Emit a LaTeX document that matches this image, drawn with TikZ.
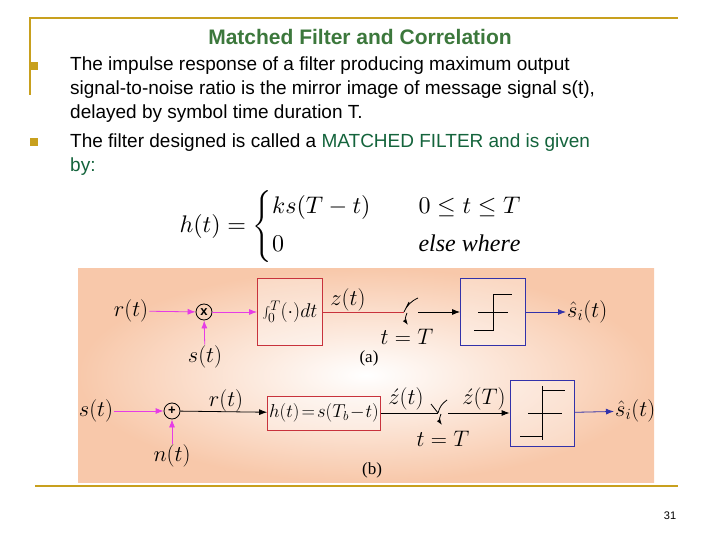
\documentclass[tikz,border=0pt]{standalone}
\usepackage{graphicx}
\usepackage{fontspec}
\setmainfont{Liberation Serif}
\newfontfamily\sans{Liberation Sans}
\usetikzlibrary{arrows.meta}
\newcommand{\MM}[1]{\scalebox{1.3}{$#1$}}
\definecolor{gold}{RGB}{200,160,30}
\definecolor{tgreen}{RGB}{60,120,60}
\definecolor{mgreen}{RGB}{20,100,60}
\definecolor{peach}{RGB}{248,200,170}
\definecolor{mag}{RGB}{230,60,230}
\definecolor{rbox}{RGB}{200,50,60}
\definecolor{bbox}{RGB}{50,50,170}
\tikzset{
 body/.style={font=\sans\fontsize{19}{24}\selectfont,anchor=north west,align=left,inner sep=0pt},
 lab/.style={font=\fontsize{17}{17}\selectfont,inner sep=1pt},
 marr/.style={draw=mag,thick,-{Latex[length=8pt,width=6pt]}},
 karr/.style={draw=black,thick,-{Latex[length=8pt,width=6pt]}},
 barr/.style={draw=bbox,thick,-{Latex[length=8pt,width=6pt]}},
 redbox/.style={draw=rbox,thick,fill=white,fill opacity=0.3,text opacity=1},
 bluebox/.style={draw=bbox,thick,fill=white,fill opacity=0.3,text opacity=1},
 circ/.style={circle,draw,thick,inner sep=0pt,minimum size=16pt,font=\sans\fontsize{13}{13}\selectfont\bfseries}
}
\begin{document}
\begin{tikzpicture}[x=1pt,y=-1pt]
\useasboundingbox (0,0) rectangle (720,540);
\fill[white] (0,0) rectangle (720,540);
\draw[gold,line width=2.5pt] (30,95) -- (30,18) -- (678,18);
\draw[gold,line width=2.5pt] (35,486) -- (678,486);
\node[font=\sans\fontsize{21}{21}\selectfont\bfseries,text=tgreen] (title) at (360,37) {Matched Filter and Correlation};
\fill[gold] (30,62) rectangle (38,70);
\fill[gold] (30,138) rectangle (38,146);
\node[body] (b1) at (70,57) {The impulse response of a filter producing maximum output\\signal-to-noise ratio is the mirror image of message signal s(t),\\delayed by symbol time duration T.};
\node[body] (b2) at (70,134) {The filter designed is called a \textcolor{mgreen}{MATCHED FILTER and is given}\\\textcolor{mgreen}{by:}};
% equation
\node[anchor=west] (eq) at (176,227) {\scalebox{2.4}{$h(t)=\left\{\begin{array}{@{}l@{\qquad}l@{}}ks(T-t) & 0\le t\le T\\[4pt] 0 & \mathit{else\ where}\end{array}\right.$}};
% diagram background
\shade[inner color=white,outer color=peach] (78,268) rectangle (654,482);
% (a)
\node[lab] (ra) at (131,311) {\MM{r(t)}};
\node[circ] (mul) at (204,312) {x};
\node[lab] (sa) at (205,357) {\MM{s(t)}};
\node[redbox,minimum width=65pt,minimum height=67pt] (int) at (290,312) {};
\node[lab] at (290,312) {\scalebox{1.15}{$\int_0^T(\cdot)dt$}};
\node[lab] (za) at (348,300) {\MM{z(t)}};
\coordinate (swa) at (404,312);
\coordinate (swa2) at (418,312);
\node[bluebox,minimum width=65pt,minimum height=67pt] (dec1) at (493,312) {};
\draw[thick] (474,330) -- (493,330) -- (493,294) -- (512,294) (478,312) -- (508,312);
\node[lab,anchor=west] (oa) at (566,312) {\MM{\hat{s}_i(t)}};
\node[lab] (ta) at (407,337) {\MM{t=T}};
\node[lab] (la) at (369,358) {(a)};
\draw[marr] (ra) -- (mul);
\draw[marr] (sa) -- (mul);
\draw[marr] (mul) -- (int);
\draw[rbox,thick] (int) -- (swa);
\draw[thick] (swa) -- (409,302) (swa) to[bend left=20] (418,298);
\draw[thick,-{Latex[length=6pt,width=4pt]}] (407,313) to[bend right=30] (408,325);
\draw[karr] (swa2) -- (dec1);
\draw[barr] (dec1) -- (oa);
% (b)
\node[lab] (sb) at (96,411) {\MM{s(t)}};
\node[circ] (add) at (172,411) {+};
\node[lab] (nb) at (172,456) {\MM{n(t)}};
\node[lab] (rb) at (226,401) {\MM{r(t)}};
\node[redbox,minimum width=113pt,minimum height=34pt] (h) at (324,413) {};
\node[lab] at (324,413) {\scalebox{1.08}{$h(t)\!=\!s(T_b\!-\!t)$}};
\node[lab] (zb) at (406,399) {\MM{\acute{z}(t)}};
\coordinate (swb) at (438,413);
\coordinate (swb2) at (448,413);
\node[lab] (zT) at (484,399) {\MM{\acute{z}(T)}};
\node[bluebox,minimum width=64pt,minimum height=66pt] (dec2) at (542,413) {};
\draw[thick] (542,386) -- (542,440) (542,390) -- (565,390) (528,413) -- (562,413) (520,436) -- (542,436);
\node[lab,anchor=west] (ob) at (614,411) {\MM{\hat{s}_i(t)}};
\node[lab] (tb) at (443,439) {\MM{t=T}};
\node[lab] (lb) at (372,470) {(b)};
\draw[marr] (sb) -- (add);
\draw[marr] (nb) -- (add);
\draw[karr] (add) -- (h);
\draw[thick] (h) -- (swb);
\draw[thick] (swb) -- (431,404) (swb) to[bend left=20] (447,400);
\draw[thick,-{Latex[length=6pt,width=4pt]}] (441,414) to[bend right=30] (442,425);
\draw[karr] (swb2) -- (dec2);
\draw[barr] (dec2) -- (ob);
\node[font=\sans\fontsize{11}{11}\selectfont] (pg) at (670,516) {31};
\end{tikzpicture}
\end{document}
